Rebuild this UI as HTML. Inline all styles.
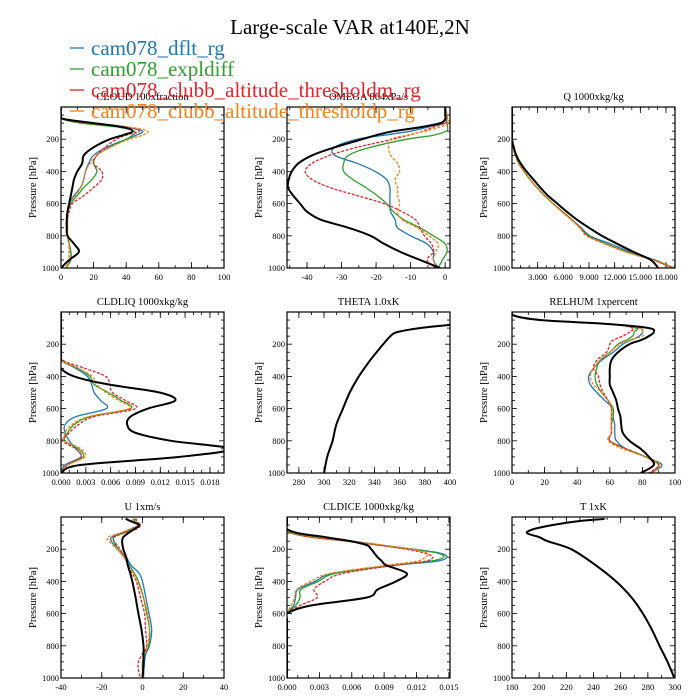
<!DOCTYPE html>
<html><head><meta charset="utf-8"><style>
html,body{margin:0;padding:0;background:#fff;}
svg{display:block;font-family:"Liberation Serif",serif;}
</style></head><body>
<svg id="fig" width="700" height="700" viewBox="0 0 700 700" xmlns="http://www.w3.org/2000/svg">
<rect width="700" height="700" fill="#fff"/>
<text x="350" y="34" font-size="21" text-anchor="middle">Large-scale VAR at140E,2N</text>
<g id="panels"></g>
<g id="legend"></g>
</svg>
<script>
const P = [0,50,75,100,125,150,175,200,250,300,350,400,450,500,550,600,650,700,750,800,850,900,950,1000];
const seriesNames = ["cam078_dflt_rg","cam078_expldiff","cam078_clubb_altitude_thresholdm_rg","cam078_clubb_altitude_thresholdp_rg","obs"];
const cloudBlue  =[0,0,1,15,40,50,46,40,28,20,17,15,14,12,8,5,4,4,3.5,4,5,6,6,3];
const cloudGreen =[0,0,1,12,35,45,44,40,30,22,20,22,19,14,10,6,4,4,4,4,5,6,6,3];
const cloudRed   =[0,0,1,16,40,48,40,34,27,22,20,25,25,20,14,7,5,4,4,4,5,5,5,3];
const cloudOrange=[0,0,1,17,42,53,50,42,30,22,18,15,14,12,9,5,4,4,4,4,5,5,5,3];
const cloudBlack =[0,0,2,20,38,44,38,30,20,14,13,10,8,7,6,5,4,3.5,3.5,4,8,11,5,0];
const omegaBlue  =[0,0.3,0.3,0,-5,-10,-17.7,-25.5,-32,-32,-25.5,-20.3,-17,-16,-16,-16,-15.8,-14.5,-13.8,-10,-5.3,-3.4,-3.4,-2];
const omegaGreen =[0,0.5,0.5,0.5,0.7,0.3,-3.4,-11,-21.6,-28,-29.4,-29.4,-26.8,-23,-19.7,-17,-15,-12,-7.3,-3.4,0,0.5,-0.8,-2];
const omegaRed   =[0,0.3,0.3,0,-3.4,-6.6,-10.5,-15,-25.5,-33.4,-38.6,-40.5,-38.6,-33.4,-25.5,-17.7,-12.5,-8.6,-7.3,-6,-4,-3.4,-5.3,-2.7];
const omegaOrange=[0,0.5,0.8,1.2,-1.4,-6,-11,-15.8,-16.4,-15.8,-13.8,-13.2,-14.5,-13.8,-13.8,-13.2,-13.8,-12.5,-8,-4.7,-2,-2.7,-3.4,-2];
const omegaBlack =[0,0,0,-1.4,-7,-15,-20,-24,-32,-38.5,-42.5,-44.4,-45.3,-45.5,-44,-42,-40,-36,-28,-21.6,-17.7,-13,-7.3,-1.4];
const qBlue  =[0,0,0,0,0,0,0,0,0.15,0.4,0.8,1.4,2.1,2.9,3.8,4.8,5.9,7.0,8.1,9.1,11.5,13.8,16.7,18.9];
const qGreen =[0,0,0,0,0,0,0,0,0.15,0.4,0.8,1.4,2.1,2.9,3.8,4.8,5.9,7.0,8.0,8.9,11.0,13.4,16.5,18.9];
const qRed   =[0,0,0,0,0,0,0,0,0.15,0.4,0.8,1.4,2.1,2.9,3.8,4.8,5.9,7.0,8.0,8.8,10.9,13.3,16.4,18.8];
const qOrange=[0,0,0,0,0,0,0,0,0.15,0.4,0.8,1.4,2.1,2.9,3.8,4.8,5.8,6.9,7.9,8.7,10.8,13.3,16.5,19.0];
const qBlack =[0,0,0,0,0,0,0,0,0.2,0.5,1.0,1.7,2.5,3.3,4.2,5.3,6.4,7.6,9.0,10.5,12.3,14.2,16.2,17.1];
const liqBlue  =[0,0,0,0,0,0,0,0,0,0,0.0018,0.0032,0.0037,0.004,0.0048,0.0055,0.0018,0.0005,0.0005,0.001,0.0018,0.0024,0.0005,0];
const liqGreen =[0,0,0,0,0,0,0,0,0,0,0.0021,0.0035,0.004,0.0057,0.0073,0.0084,0.0035,0.0016,0.0008,0.0005,0.0021,0.0027,0.0008,0];
const liqRed   =[0,0,0,0,0,0,0,0,0,0.0002,0.0029,0.0054,0.0059,0.0062,0.0078,0.009,0.004,0.0021,0.001,0.0002,0.0018,0.0024,0.0008,0];
const liqOrange=[0,0,0,0,0,0,0,0,0,0,0.0021,0.0038,0.0043,0.0054,0.007,0.0082,0.0033,0.0013,0.0005,0.0005,0.0024,0.0029,0.0008,0];
const liqBlack =[0,0,0,0,0,0,0,0,0,0,0,0.0016,0.0057,0.0119,0.0138,0.0105,0.0084,0.008,0.009,0.0133,0.0205,0.0143,0.0024,0];
const PT = [80,100,125,150,200,300,400,500,600,700,800,900,1000];
const thetaBlue  =[400,376,358,352.7,347,336.6,327.6,320.4,315,309.7,306.8,302.5,300];
const thetaGreen =[400,376,358,352.7,347,336.6,327.6,320.4,315,309.7,306.8,302.5,300];
const thetaRed   =[400,376,358,352.7,347,336.6,327.6,320.4,315,309.7,306.8,302.5,300];
const thetaOrange=[400,376.5,358.5,353,347.3,337,328,320.8,315.3,310,307,302.7,300.2];
const thetaBlack =[400,376,358,352.7,347,336.6,327.6,320.4,315,309.7,306.8,302.5,300];
const PR = [0,25,50,75,100,125,150,175,200,250,300,350,400,450,500,550,600,650,700,750,800,850,900,950,1000];
const rhBlue  =[0,2,18,60,78,80,78,73,68,62,55,50,47,48,52,57,62,62,63,63,64,70,82,92,85];
const rhGreen =[0,2,18,60,76,75,74,70,65,60,54,52,51,52,55,59,62,62,61,61,60,70,82,90,85];
const rhRed   =[0,2,18,60,74,72,68,62,60,58,52,50,53,54,56,59,61,61,61,61,60,70,82,90,84];
const rhOrange=[0,2,18,60,78,80,80,72,66,60,54,50,48,50,55,59,61,61,61,61,59,68,82,91,86];
const rhBlack =[0,2,18,60,84,87,84,79,72,65,61,60,60,60,62,64,65,66.5,67,68,72,79,84,87,79];
const PU = [10,25,50,75,100,125,150,200,250,300,350,400,500,600,700,800,850,900,950,1000];
const uBlue  =[-4,-5,-2,-6,-10.5,-15,-15.3,-12,-8,-5.6,-1.6,0,1.6,3.2,4.5,3.4,1.6,1,0.7,0.5];
const uGreen =[-3,-4,-1,-5,-9.5,-14,-14,-12,-9,-6.5,-4,-2,0.5,2,3.5,3,1,0,0,0];
const uRed   =[-3,-3,-1,-3,-9,-14,-14,-11,-9,-7,-5,-3,-1,1,1.5,2,0,-2,-2,-1];
const uOrange=[-4,-5,-2,-6,-11,-17,-16.5,-12.5,-9,-7,-4.5,-2.5,0.5,2.5,3.5,2.5,1,0.5,0.5,0.5];
const uBlack =[-8.3,-6,-1.7,-4,-7,-9.4,-10,-9.4,-8,-7.2,-6,-5,-3.4,-2,-0.5,0.5,0.5,0.5,0.3,0];
const PI = [0,50,75,100,125,150,175,200,225,250,275,300,350,400,450,500,550,600,650,1000];
const iceBlue  =[0,0,0,0.0006,0.0026,0.0059,0.0088,0.0117,0.0142,0.0148,0.0138,0.010,0.0043,0.0026,0.001,0.0008,0.0006,0,0,0];
const iceGreen =[0,0,0,0.0004,0.0022,0.0055,0.0086,0.0115,0.014,0.0145,0.0132,0.0098,0.0045,0.0029,0.0013,0.0012,0.0008,0,0,0];
const iceRed   =[0,0,0,0.0004,0.0022,0.0055,0.0085,0.011,0.0128,0.0135,0.0128,0.0100,0.0052,0.0035,0.0025,0.0028,0.0012,0,0,0];
const iceOrange=[0,0,0,0.0006,0.0026,0.006,0.009,0.0115,0.013,0.0128,0.012,0.0092,0.0040,0.0022,0.0009,0.0007,0.0004,0,0,0];
const iceBlack =[0,0,0,0.001,0.0035,0.0059,0.0074,0.0078,0.0081,0.0084,0.0088,0.0092,0.0111,0.0101,0.0084,0.0074,0.0022,0,0,0];
const PTT = [12,25,50,75,100,125,150,200,300,400,500,600,700,800,900,1000];
const tBlue  =[248,230,210,196,191,200,206,223.6,241.7,256.6,268,276.4,283,288.6,294.5,299.5];
const tGreen =[248,230,210,196,191,200,206,223.6,241.7,256.6,268,276.4,283,288.6,294.5,299.5];
const tRed   =[248,230,210,196,191,200,206,223.6,241.7,256.6,268,276.4,283,288.6,294.5,299.5];
const tOrange=[249,231,211,197,191.5,200.5,206.5,224,242,257,268.3,276.7,283.3,288.9,294.8,299.8];
const tBlack =[248,230,210,196,191,200,206,223.6,241.7,256.6,268,276.4,283,288.6,294.5,299.5];

const colors = ["#1f77b4","#2ca02c","#e3242b","#ff7f0e","#000"];
const dashes = [null,null,"3,1.5","3,1.5",null];
const widths = [1.3,1.3,1.3,1.3,2];

const panels = [
 {name:"cloud",title:"CLOUD  100xfraction",x0:61,y0:107,xmin:0,xmax:100,ticks:[0,20,40,60,80,100],lab:v=>v,minor:10,p:P,s:[cloudBlue,cloudGreen,cloudRed,cloudOrange,cloudBlack]},
 {name:"omega",title:"OMEGA  864xPa/s",x0:287,y0:107,xmin:-45.8,xmax:1.4,ticks:[-40,-30,-20,-10,0],lab:v=>v,minor:5,p:P,s:[omegaBlue,omegaGreen,omegaRed,omegaOrange,omegaBlack]},
 {name:"q",title:"Q  1000xkg/kg",x0:512,y0:107,xmin:0,xmax:19.05,ticks:[3,6,9,12,15,18],lab:v=>v.toFixed(3),minor:1,p:P,s:[qBlue,qGreen,qRed,qOrange,qBlack]},
 {name:"cldliq",title:"CLDLIQ  1000xkg/kg",x0:61,y0:312,xmin:0,xmax:0.0197,ticks:[0,0.003,0.006,0.009,0.012,0.015,0.018],lab:v=>v.toFixed(3),minor:0.001,p:P,s:[liqBlue,liqGreen,liqRed,liqOrange,liqBlack]},
 {name:"theta",title:"THETA  1.0xK",x0:287,y0:312,xmin:270.6,xmax:400,ticks:[280,300,320,340,360,380,400],lab:v=>v,minor:10,p:PT,s:[thetaBlue,thetaGreen,thetaRed,thetaOrange,thetaBlack]},
 {name:"relhum",title:"RELHUM  1xpercent",x0:512,y0:312,xmin:0,xmax:100,ticks:[0,20,40,60,80,100],lab:v=>v,minor:10,p:PR,s:[rhBlue,rhGreen,rhRed,rhOrange,rhBlack]},
 {name:"u",title:"U  1xm/s",x0:61,y0:517,xmin:-40,xmax:40,ticks:[-40,-20,0,20,40],lab:v=>v,minor:10,p:PU,s:[uBlue,uGreen,uRed,uOrange,uBlack]},
 {name:"cldice",title:"CLDICE  1000xkg/kg",x0:287,y0:517,xmin:0,xmax:0.0151,ticks:[0,0.003,0.006,0.009,0.012,0.015],lab:v=>v.toFixed(3),minor:0.001,p:PI,s:[iceBlue,iceGreen,iceRed,iceOrange,iceBlack]},
 {name:"t",title:"T  1xK",x0:512,y0:517,xmin:180,xmax:300,ticks:[180,200,220,240,260,280,300],lab:v=>v,minor:10,p:PTT,s:[tBlue,tGreen,tRed,tOrange,tBlack]}
];
const W=163,H=161,NS="http://www.w3.org/2000/svg";
function mk(tag,attrs,parent){const e=document.createElementNS(NS,tag);for(const k in attrs)e.setAttribute(k,attrs[k]);parent.appendChild(e);return e;}
function smooth(pts){
  let d="M"+pts[0][0].toFixed(1)+","+pts[0][1].toFixed(1);
  for(let i=0;i<pts.length-1;i++){
    const p0=pts[Math.max(0,i-1)],p1=pts[i],p2=pts[i+1],p3=pts[Math.min(pts.length-1,i+2)];
    const c1x=p1[0]+(p2[0]-p0[0])/6,c1y=p1[1]+(p2[1]-p0[1])/6;
    const c2x=p2[0]-(p3[0]-p1[0])/6,c2y=p2[1]-(p3[1]-p1[1])/6;
    d+="C"+c1x.toFixed(1)+","+c1y.toFixed(1)+" "+c2x.toFixed(1)+","+c2y.toFixed(1)+" "+p2[0].toFixed(1)+","+p2[1].toFixed(1);
  }
  return d;
}
const root=document.getElementById("panels");
panels.forEach((pn,i)=>{
  const g=mk("g",{},root);
  
  
  const xs=v=>pn.x0+(v-pn.xmin)/(pn.xmax-pn.xmin)*W;
  const ys=p=>pn.y0+p/1000*H;
  const cid="clip"+i;
  const cp=mk("clipPath",{id:cid},g);mk("rect",{x:pn.x0,y:pn.y0,width:W,height:H},cp);
  const t=mk("text",{x:pn.x0+W/2,y:pn.y0-7,"font-size":"10.5","text-anchor":"middle"},g);t.textContent=pn.title;
  
  
  for(let p=50;p<1000;p+=50){const y=ys(p);const L=(p%200===0)?5:3;
    mk("line",{x1:pn.x0,x2:pn.x0+L,y1:y,y2:y,stroke:"#000","stroke-width":0.8},g);
    mk("line",{x1:pn.x0+W,x2:pn.x0+W-L,y1:y,y2:y,stroke:"#000","stroke-width":0.8},g);}
  [200,400,600,800,1000].forEach(p=>{const tl=mk("text",{x:pn.x0-2,y:ys(p)+3,"font-size":"8.5","text-anchor":"end"},g);tl.textContent=p;
    
    });
  const yt=mk("text",{x:0,y:0,"font-size":"10.5","text-anchor":"middle",transform:`translate(${pn.x0-25},${pn.y0+H/2}) rotate(-90)`},g);yt.textContent="Pressure [hPa]";
  
  
  const start=Math.ceil(pn.xmin/pn.minor)*pn.minor;
  for(let v=start;v<=pn.xmax+1e-9;v+=pn.minor){const x=xs(v);
    mk("line",{x1:x,x2:x,y1:pn.y0+H,y2:pn.y0+H-3,stroke:"#000","stroke-width":0.8},g);
    mk("line",{x1:x,x2:x,y1:pn.y0,y2:pn.y0+3,stroke:"#000","stroke-width":0.8},g);}
  pn.ticks.forEach(v=>{const x=xs(v);
    mk("line",{x1:x,x2:x,y1:pn.y0+H,y2:pn.y0+H-6,stroke:"#000","stroke-width":0.8},g);
    mk("line",{x1:x,x2:x,y1:pn.y0,y2:pn.y0+6,stroke:"#000","stroke-width":0.8},g);
    const tl=mk("text",{x:x,y:pn.y0+H+12,"font-size":"8.5","text-anchor":"middle"},g);
    tl.textContent=pn.lab(v);
    
    });
  const sg=mk("g",{"clip-path":`url(#${cid})`},g);
  pn.s.forEach((arr,k)=>{
    const pts=arr.map((v,j)=>[xs(v),ys(pn.p[j])]);
    const pa=mk("path",{d:smooth(pts),fill:"none",stroke:colors[k],"stroke-width":widths[k],"stroke-linejoin":"round"},sg);
    if(dashes[k])pa.setAttribute("stroke-dasharray",dashes[k]);
    
    
  });
  const fr=mk("rect",{x:pn.x0,y:pn.y0,width:W,height:H,fill:"none",stroke:"#000","stroke-width":1.2},g);
  
  
});
const lg=document.getElementById("legend");
seriesNames.slice(0,4).forEach((n,k)=>{
  const y=48+k*21;
  const ln=mk("line",{x1:70,x2:84,y1:y,y2:y,stroke:colors[k],"stroke-width":1.3},lg);
  
  
  const tx=mk("text",{x:91,y:y+7,"font-size":"21",fill:colors[k]},lg);tx.textContent=n;
  
  
});
</script>
</body></html>
